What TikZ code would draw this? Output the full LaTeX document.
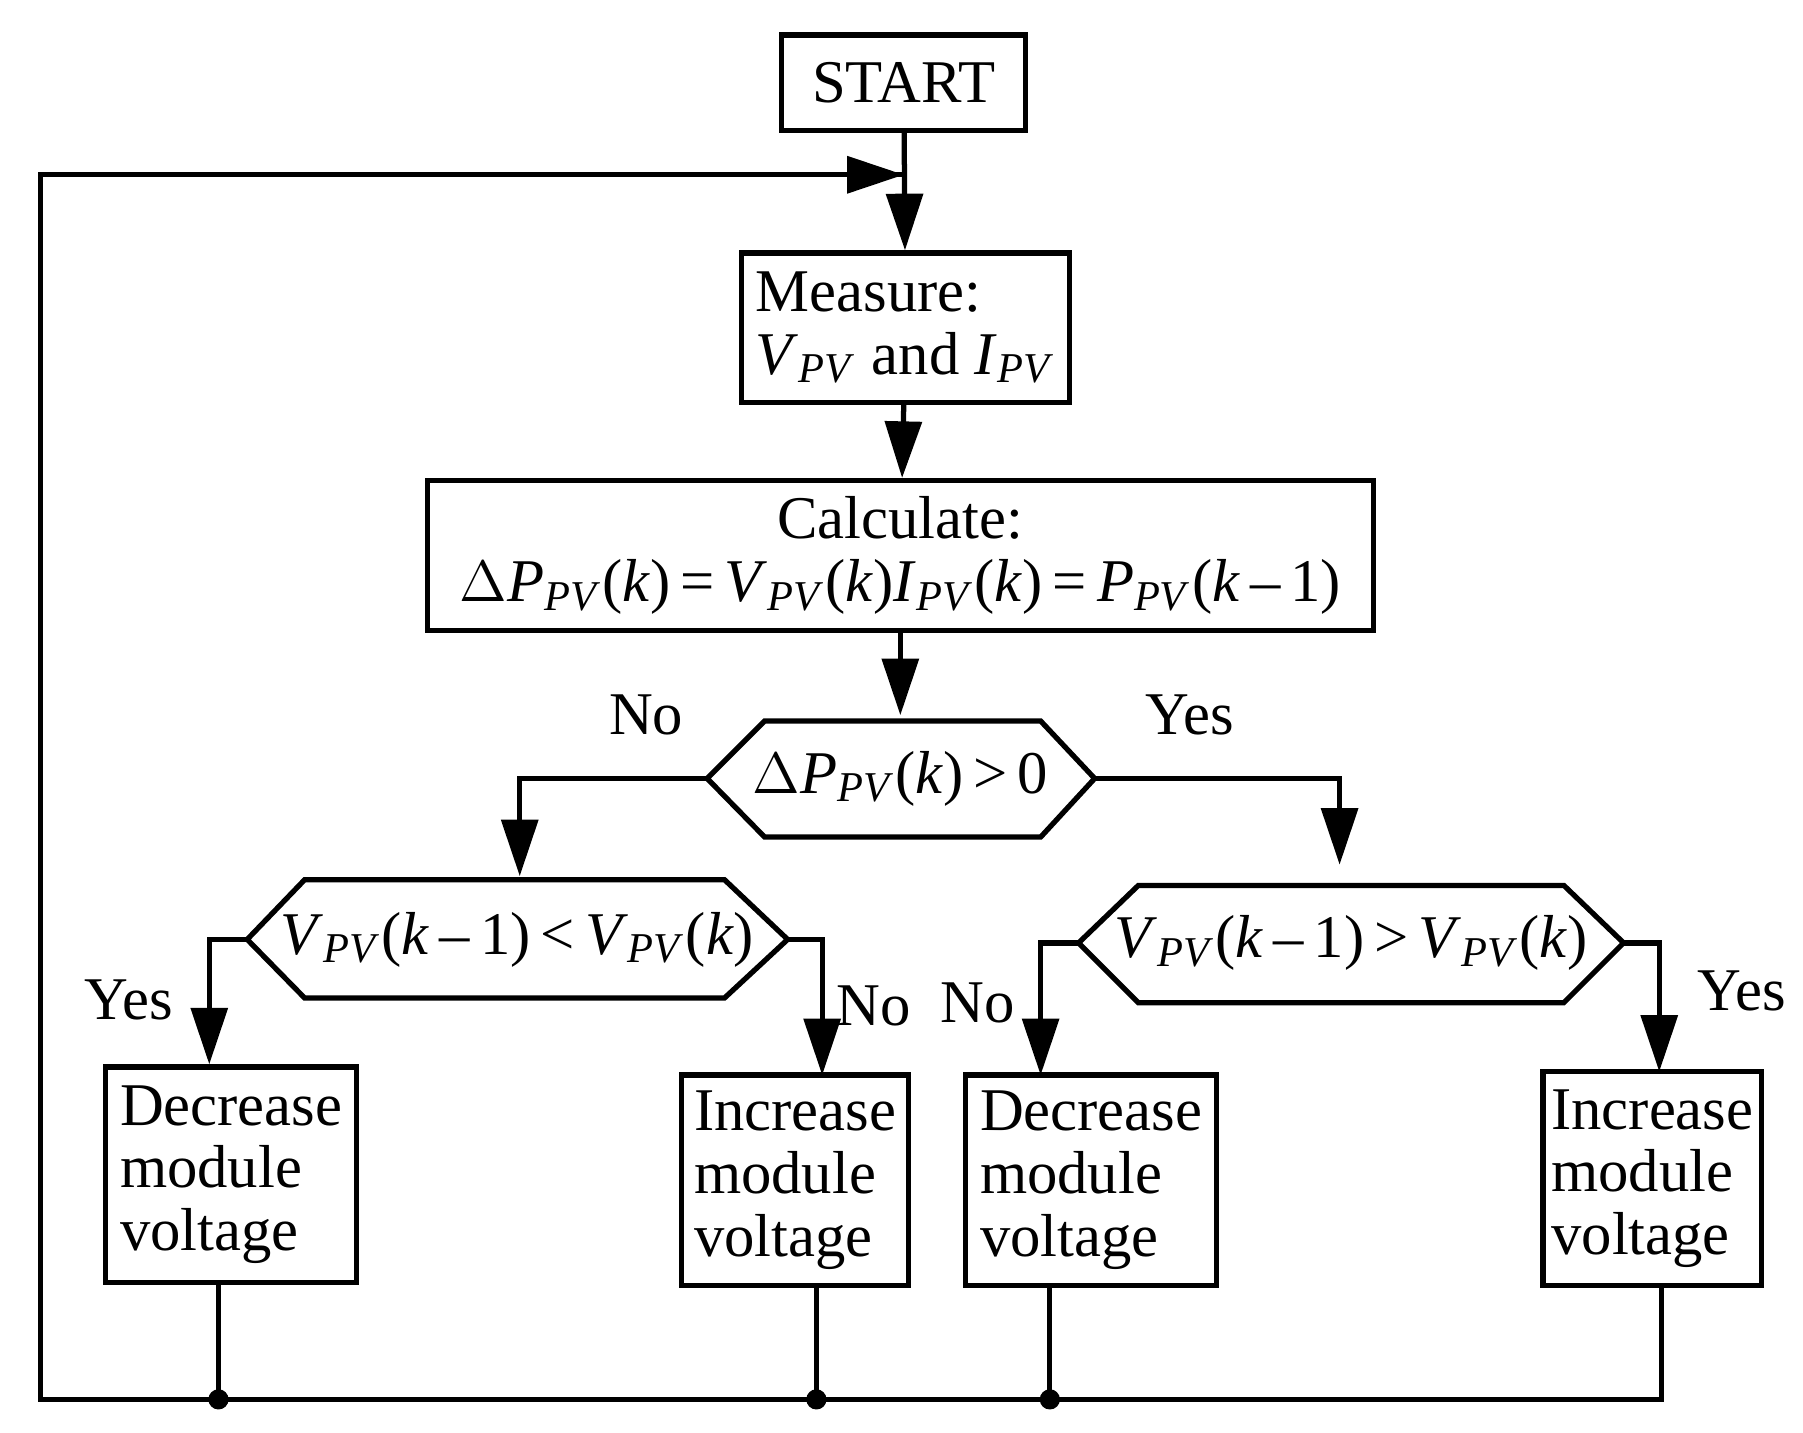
\documentclass[tikz,border=0pt]{standalone}
\usepackage{fontspec}
\setmainfont{Liberation Serif}
\usetikzlibrary{arrows.meta}
\newcommand{\sub}[1]{\textsubscript{\textit{#1}}}
\newcommand{\vv}{\textit{V}\sub{PV}}
\begin{document}
\begin{tikzpicture}[x=0.01cm,y=-0.01cm,
  line width=1.3pt,
  box/.style={draw,rectangle,inner sep=0pt,font=\fontsize{15}{15.5}\selectfont},
  lbl/.style={font=\fontsize{15}{15}\selectfont},
  arr/.style={-{Triangle[length=14pt,width=9pt]}},
  dot/.style={circle,fill,inner sep=0pt,minimum size=5pt}]
\useasboundingbox (0,0) rectangle (1568,1246);
\node[box,minimum width=2.12cm,minimum height=0.83cm] (start) at (786,72) {START};
\node[box,minimum width=2.85cm,minimum height=1.30cm,align=left] (meas) at (787.5,285) {Measure:\\ \vv{} and \textit{I}\sub{PV}};
\node[box,minimum width=8.22cm,minimum height=1.30cm,align=center] (calc) at (783,483) {Calculate:\\ $\Delta$\textit{P}\sub{PV}(\textit{k})\,=\,\vv(\textit{k})\textit{I}\sub{PV}(\textit{k})\,=\,\textit{P}\sub{PV}(\textit{k}\,–\,1)};
% hexagons
\draw (615,677) -- (665,627) -- (905,627) -- (952,677) -- (905,728) -- (665,728) -- cycle;
\coordinate (d1l) at (615,677); \coordinate (d1r) at (952,677);
\node[lbl] (d1) at (783,677) {$\Delta$\textit{P}\sub{PV}(\textit{k})\,>\,0};
\draw (215,817) -- (265,765) -- (630,765) -- (685,817) -- (630,868) -- (265,868) -- cycle;
\coordinate (d2l) at (215,817); \coordinate (d2r) at (685,817);
\node[lbl] (d2) at (450,817) {\vv(\textit{k}\,–\,1)\,<\,\vv(\textit{k})};
\draw (938,820) -- (990,770) -- (1360,770) -- (1412,820) -- (1360,872) -- (990,872) -- cycle;
\coordinate (d3l) at (938,820); \coordinate (d3r) at (1412,820);
\node[lbl] (d3) at (1175,820) {\vv(\textit{k}\,–\,1)\,>\,\vv(\textit{k})};
% action boxes
\node[box,minimum width=2.18cm,minimum height=1.87cm,align=left] (b1) at (201,1021.5) {Decrease\\module\\voltage};
\node[box,minimum width=1.97cm,minimum height=1.83cm,align=left] (b2) at (691.5,1026.5) {Increase\\module\\voltage};
\node[box,minimum width=2.18cm,minimum height=1.83cm,align=left] (b3) at (949,1026.5) {Decrease\\module\\voltage};
\node[box,minimum width=1.90cm,minimum height=1.86cm,align=left] (b4) at (1437,1025) {Increase\\module\\voltage};
% labels
\node[lbl] (n1) at (562,622) {No};
\node[lbl] (y1) at (1035,622) {Yes};
\node[lbl] (y2) at (112,870) {Yes};
\node[lbl] (n2) at (760,875) {No};
\node[lbl] (n3) at (850,872) {No};
\node[lbl] (y3) at (1515,862) {Yes};
% connectors
\coordinate (j) at (786,152);
\draw[arr] (start) -- (meas);
\draw[arr] (meas) -- (calc);
\draw[arr] (calc) -- (calc.south |- 0,622);
\draw[arr] (d1l) -| (452,762);
\draw[arr] (d1r) -| (1165,752);
\draw[arr] (d2l) -| (b1.north -| 182,0);
\draw[arr] (d2r) -| (715,935);
\draw[arr] (d3l) -| (905,935);
\draw[arr] (d3r) -| (1443,932);
\coordinate (c1) at (190,1217); \coordinate (c2) at (710,1217); \coordinate (c3) at (913,1217);
\draw (b1.south -| c1) -- (c1);
\draw (b2.south -| c2) -- (c2);
\draw (b3.south -| c3) -- (c3);
\draw (b4.south -| 1445,0) |- (35,1217) -- (35,152) -- (786,152);
\draw[arr] (35,152) -- (j);
\node[dot] at (c1) {}; \node[dot] at (c2) {}; \node[dot] at (c3) {};
\end{tikzpicture}
\end{document}
